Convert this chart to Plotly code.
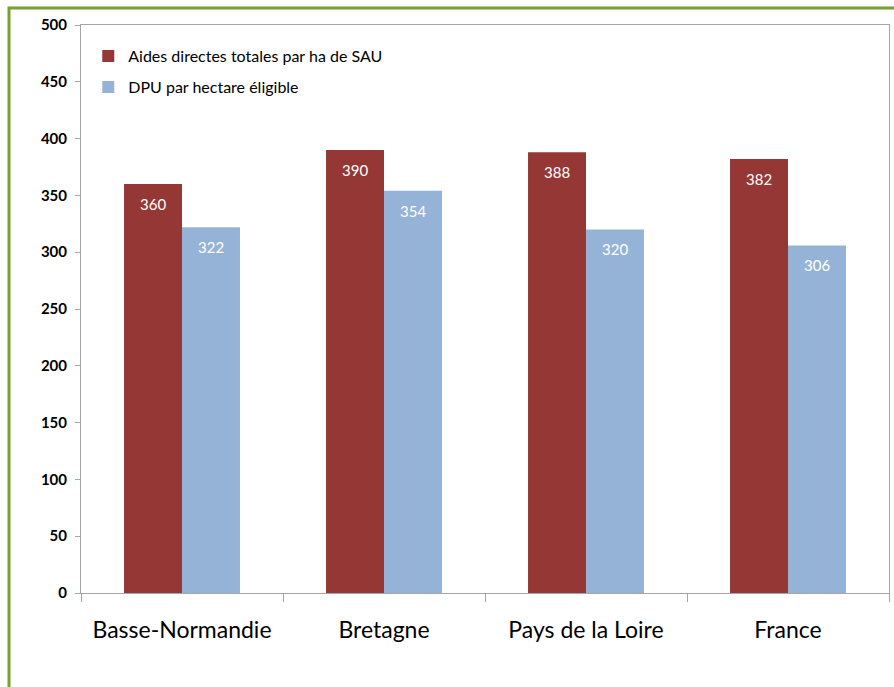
import plotly.graph_objects as go

categories = ["Basse-Normandie", "Bretagne", "Pays de la Loire", "France"]
series_names = ["Aides directes totales par ha de SAU", "DPU par hectare éligible"]
aides = [360, 390, 388, 382]
dpu = [322, 354, 320, 306]
y_ticks = [0, 50, 100, 150, 200, 250, 300, 350, 400, 450, 500]

RED = "#953735"
BLUE = "#95B3D7"
FONT = "Lato"

fig = go.Figure()
fig.add_trace(go.Bar(name=series_names[0], x=categories, y=aides, legendgroup="a",
                     marker=dict(color=RED, line=dict(width=0))))
fig.add_trace(go.Bar(name=series_names[1], x=categories, y=dpu, legendgroup="b",
                     marker=dict(color=BLUE, line=dict(width=0))))

annotations = []
for vals, shift in ((aides, -29), (dpu, 29)):
    for c, v in zip(categories, vals):
        annotations.append(dict(x=c, y=v, xref="x", yref="y", text=str(v), showarrow=False,
                                xshift=shift, yshift=-20, font=dict(family=FONT, size=15, color="white")))

fig.update_layout(
    width=894, height=687,
    margin=dict(l=81, r=5, t=25, b=94),
    paper_bgcolor="white", plot_bgcolor="white",
    barmode="group", bargap=0.426, bargroupgap=0,
    font=dict(family=FONT, color="black"),
    showlegend=True,
    legend=dict(x=0.009, y=0.975, xanchor="left", yanchor="top", bgcolor="rgba(0,0,0,0)",
                font=dict(family=FONT, size=16, color="black"), traceorder="grouped",
                tracegroupgap=7, itemwidth=30),
    annotations=annotations,
    shapes=[dict(type="rect", xref="paper", yref="paper", x0=-0.0891, x1=1.02, y0=-0.25, y1=1.030,
                 line=dict(color="#77A232", width=3), fillcolor="rgba(0,0,0,0)", layer="below")],
)
fig.update_xaxes(showgrid=False, showline=True, linecolor="#A6A6A6", linewidth=1, mirror=True,
                 ticks="outside", tickson="boundaries", ticklen=8, tickcolor="#A6A6A6",
                 ticklabelstandoff=16,
                 tickfont=dict(family=FONT, size=23, color="black"))
fig.update_yaxes(range=[0, 500], tickvals=y_ticks, showgrid=False, showline=True, linecolor="#A6A6A6",
                 linewidth=1, mirror=True, ticks="outside", ticklen=5, tickcolor="#A6A6A6",
                 ticklabelstandoff=5,
                 tickfont=dict(family=FONT, size=15, color="black", weight="bold"), zeroline=False)

fig.write_html("out.html", config={"displayModeBar": False},
               post_script="document.body.style.margin='0';")
